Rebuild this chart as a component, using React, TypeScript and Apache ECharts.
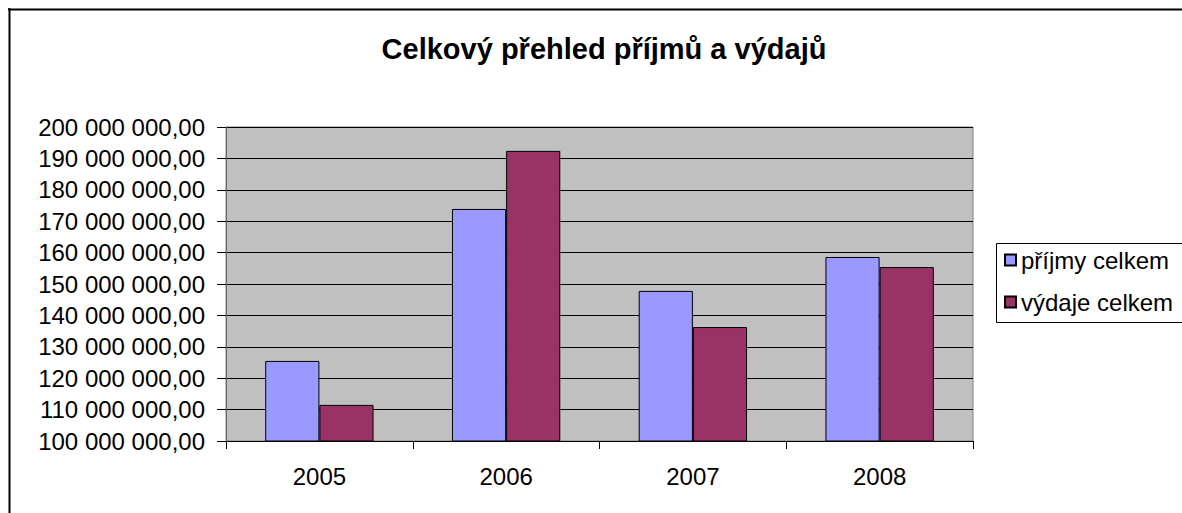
import React, { useEffect, useRef } from "react";
import * as echarts from "echarts";

const years = ["2005", "2006", "2007", "2008"];
const prijmy = [125500000, 173900000, 147800000, 158600000];
const vydaje = [111500000, 192400000, 136300000, 155400000];
const seriesNames = ["příjmy celkem", "výdaje celkem"];
const titleText = "Celkový přehled příjmů a výdajů";

const FONT = "'Liberation Sans', Arial, sans-serif";

function fmt(v: number): string {
  return Math.round(v).toString().replace(/\B(?=(\d{3})+(?!\d))/g, " ") + ",00";
}

export default function App() {
  const ref = useRef<HTMLDivElement>(null);
  useEffect(() => {
    if (!ref.current) return;
    const chart = echarts.init(ref.current, undefined, { renderer: "svg" });
    const lineStyle = { stroke: "#000", lineWidth: 1 };
    chart.setOption({
      animation: false,
      backgroundColor: "#fff",
      title: {
        text: titleText,
        left: 591,
        textAlign: "center",
        top: 21,
        textStyle: { fontFamily: FONT, fontSize: 29, fontWeight: "bold", color: "#000" },
      },
      graphic: [
        { type: "line", shape: { x1: 1.5, y1: 0, x2: 1.5, y2: 505 }, style: { stroke: "#000", lineWidth: 2 }, silent: true },
        { type: "line", shape: { x1: 0, y1: 1.5, x2: 1174, y2: 1.5 }, style: { stroke: "#000", lineWidth: 2 }, silent: true },
        { type: "line", shape: { x1: 988.5, y1: 235.5, x2: 1174, y2: 235.5 }, style: lineStyle, silent: true },
        { type: "line", shape: { x1: 988.5, y1: 235.5, x2: 988.5, y2: 314.5 }, style: lineStyle, silent: true },
        { type: "line", shape: { x1: 988.5, y1: 314.5, x2: 1174, y2: 314.5 }, style: lineStyle, silent: true },
      ],
      legend: {
        orient: "vertical",
        left: 988,
        top: 235,
        padding: [5, 0, 8, 8],
        itemWidth: 11,
        itemHeight: 11,
        itemGap: 18,
        icon: "rect",
        data: seriesNames,
        textStyle: { fontFamily: FONT, fontSize: 24, color: "#000" },
      },
      grid: {
        left: 218,
        right: 209,
        top: 119,
        bottom: 72,
        show: true,
        backgroundColor: "#C0C0C0",
        borderColor: "#808080",
        borderWidth: 1,
      },
      xAxis: {
        type: "category",
        data: years,
        boundaryGap: true,
        axisLine: { lineStyle: { color: "#000", width: 1 } },
        axisTick: { show: true, length: 8, lineStyle: { color: "#000" } },
        axisLabel: { margin: 23, fontFamily: FONT, fontSize: 24, color: "#000" },
      },
      yAxis: {
        type: "value",
        min: 100000000,
        max: 200000000,
        interval: 10000000,
        axisLine: { show: true, lineStyle: { color: "#666", width: 1 } },
        axisTick: { show: true, length: 9, lineStyle: { color: "#000" } },
        axisLabel: { margin: 21, fontFamily: FONT, fontSize: 24, color: "#000", formatter: fmt },
        splitLine: { show: true, lineStyle: { color: "#000", width: 1 } },
      },
      series: [
        {
          name: seriesNames[0],
          type: "bar",
          data: prijmy,
          barGap: "0%",
          barCategoryGap: "42%",
          itemStyle: { color: "#9999FF", borderColor: "#000", borderWidth: 1 },
        },
        {
          name: seriesNames[1],
          type: "bar",
          data: vydaje,
          itemStyle: { color: "#993366", borderColor: "#000", borderWidth: 1 },
        },
      ],
    });
    return () => chart.dispose();
  }, []);
  return (
    <div
      ref={ref}
      style={{ position: "fixed", left: 8, top: 8, width: 1174, height: 505 }}
    />
  );
}
